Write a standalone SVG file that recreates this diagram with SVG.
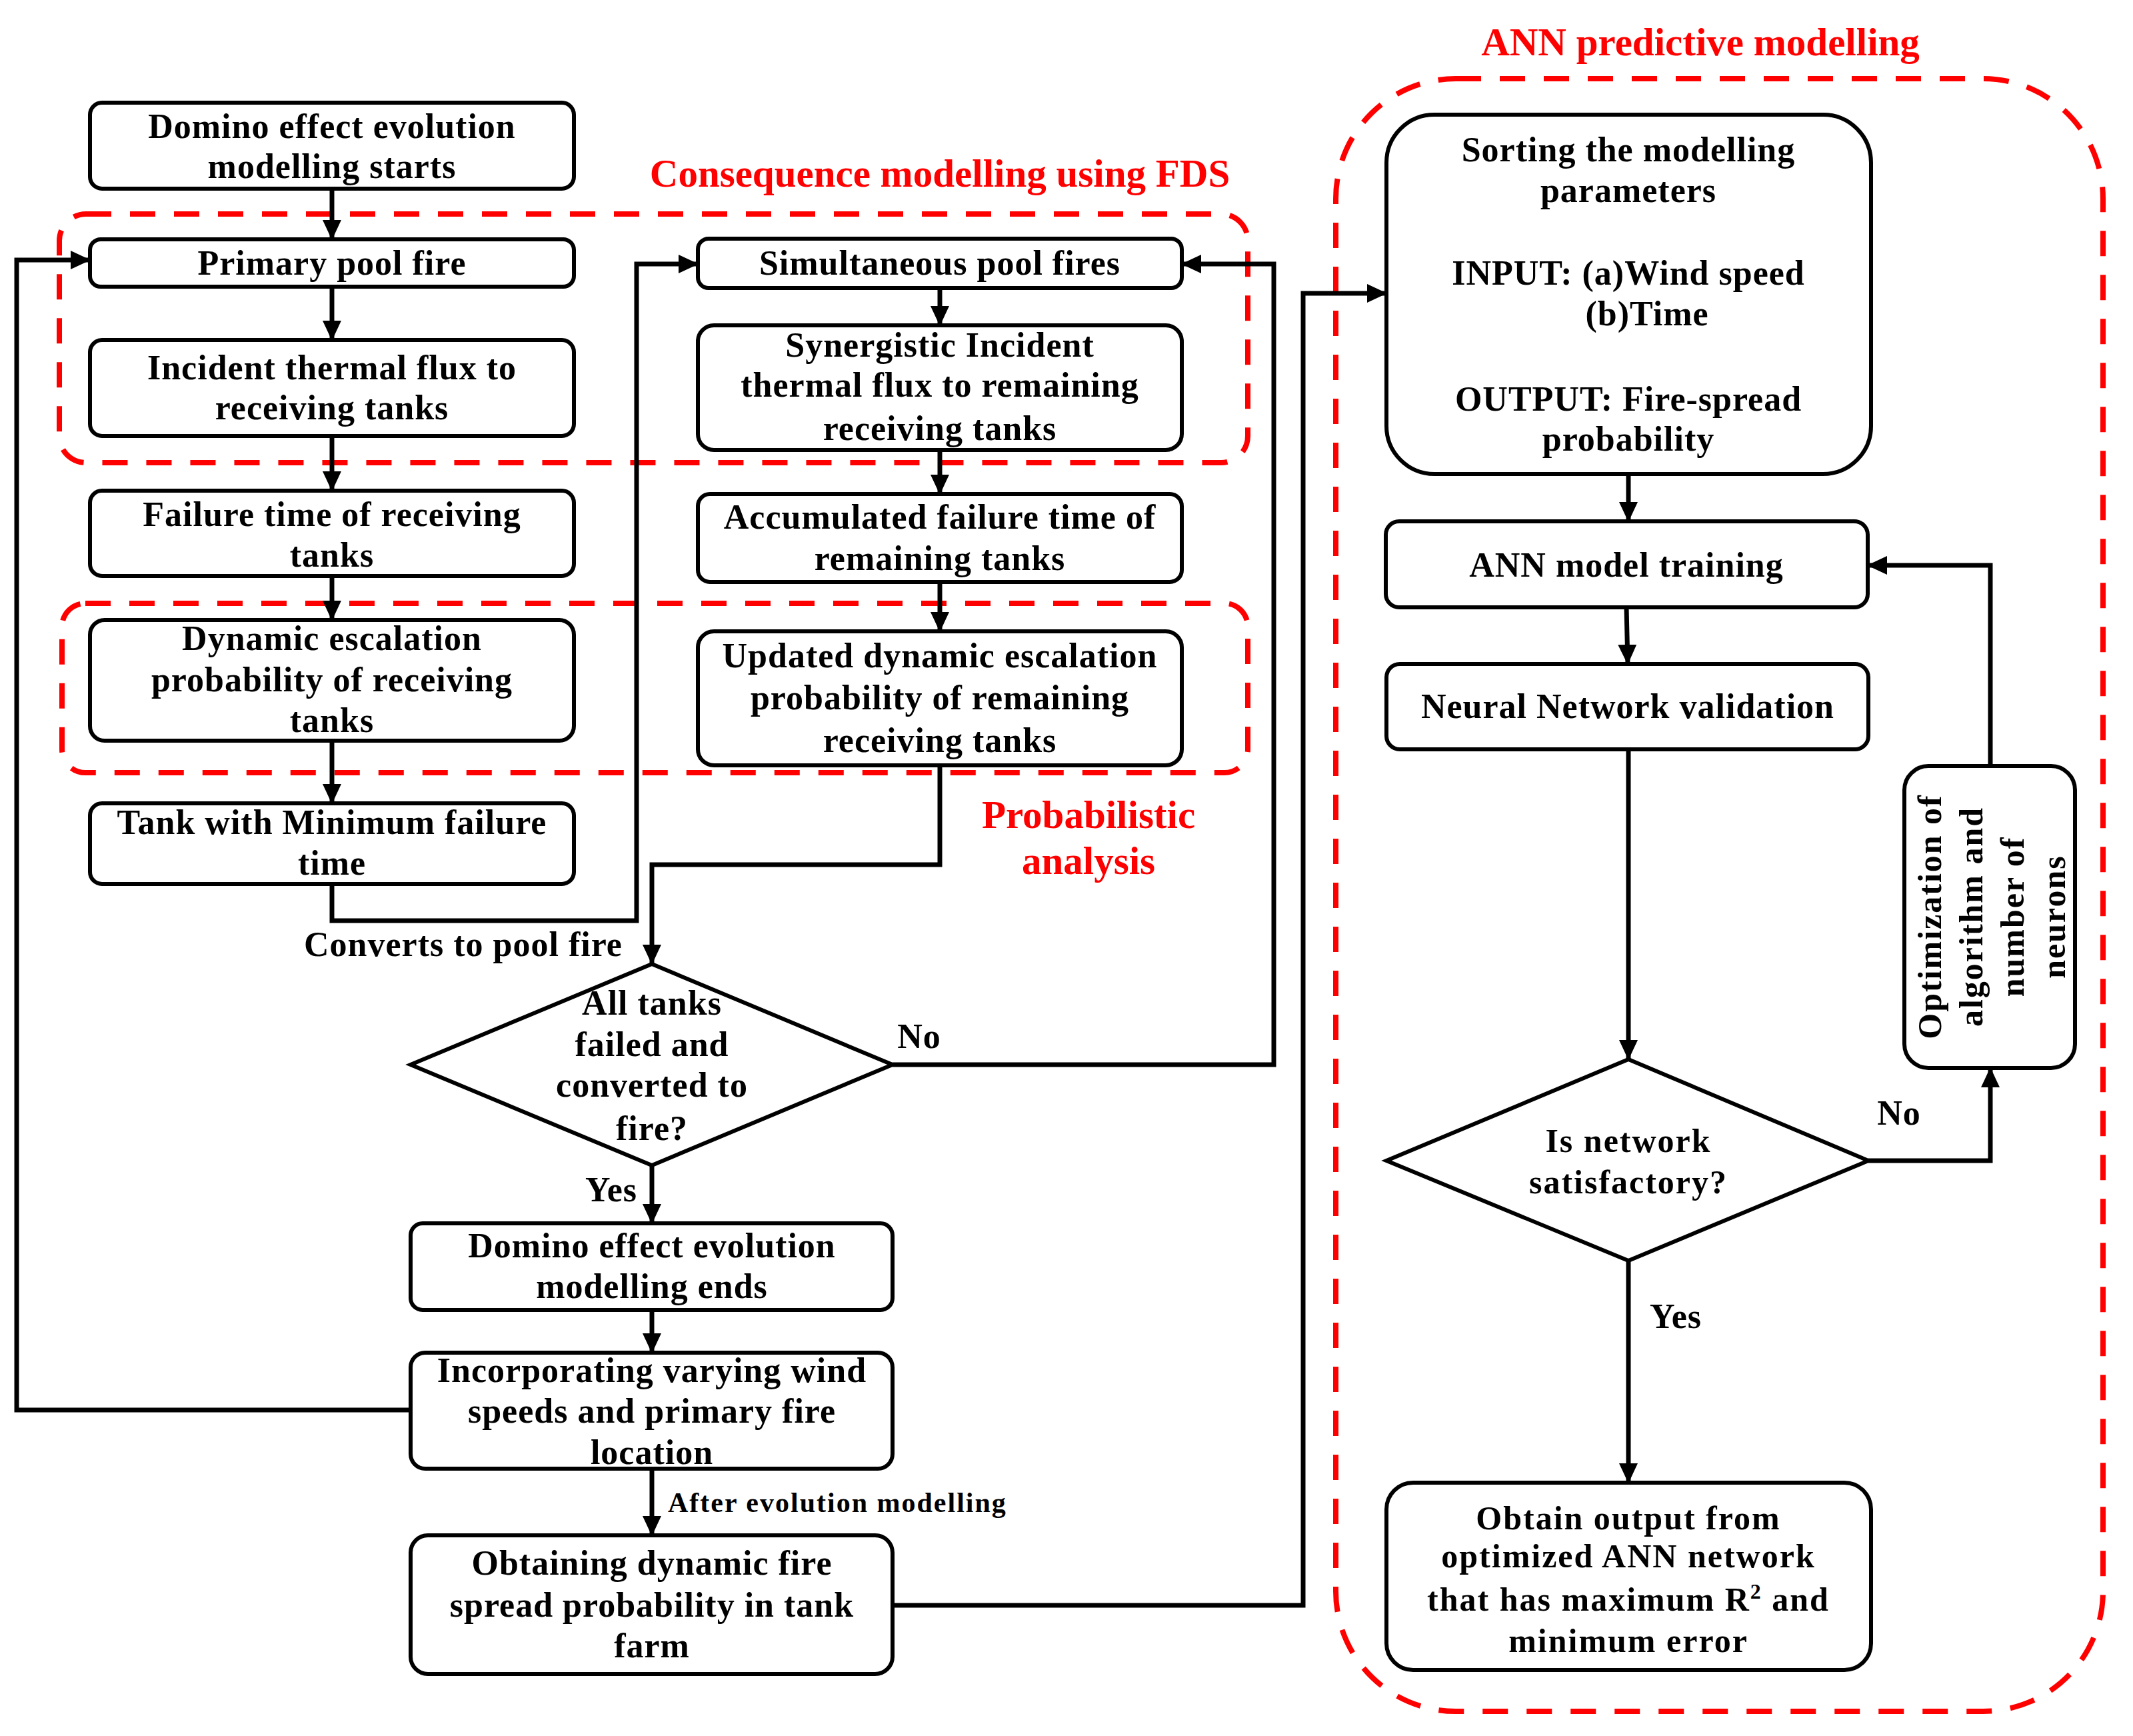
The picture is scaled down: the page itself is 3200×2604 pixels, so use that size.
<svg xmlns="http://www.w3.org/2000/svg" width="3200" height="2604" viewBox="0 0 3200 2604">
<style>
text{font-family:"Liberation Serif","Times New Roman",serif;font-weight:bold;fill:#000;}
.t{font-size:52px;text-anchor:middle;letter-spacing:1px;}
.ts{font-size:50px;text-anchor:middle;letter-spacing:2px;}
.lbl{font-size:52px;text-anchor:middle;letter-spacing:1px;}
.red{font-size:59px;text-anchor:middle;fill:#ff0000;}
.box{fill:#fff;stroke:#000;stroke-width:6;}
.dash{fill:none;stroke:#ff0000;stroke-width:8;stroke-dasharray:38 28;}
.c{fill:none;stroke:#000;stroke-width:7;}
</style>
<defs>
<marker id="ah" markerUnits="userSpaceOnUse" markerWidth="30" markerHeight="30" viewBox="0 0 30 30" refX="29" refY="15" orient="auto">
<path d="M0,1 L30,15 L0,29 Z" fill="#000"/>
</marker>
</defs>
<rect width="3200" height="2604" fill="#fff"/>

<g id="regions">
<rect class="dash" x="89" y="321" width="1783" height="373" rx="40"/>
<rect class="dash" x="93" y="905" width="1779" height="254" rx="35"/>
<rect class="dash" x="2004" y="118" width="1151" height="2449" rx="180"/>
<text class="red" x="1410" y="280">Consequence modelling using FDS</text>
<text class="red" x="1633" y="1242">Probabilistic</text>
<text class="red" x="1633" y="1311">analysis</text>
<text class="red" x="2551" y="83">ANN predictive modelling</text>
</g>

<g id="connectors">
<path class="c" d="M498,283 V359" marker-end="url(#ah)"/>
<path class="c" d="M498,430 V510" marker-end="url(#ah)"/>
<path class="c" d="M498,654 V736" marker-end="url(#ah)"/>
<path class="c" d="M498,864 V930" marker-end="url(#ah)"/>
<path class="c" d="M498,1111 V1205" marker-end="url(#ah)"/>
<path class="c" d="M498,1326 V1381 H955 V396 H1047" marker-end="url(#ah)"/>
<path class="c" d="M1410,432 V488" marker-end="url(#ah)"/>
<path class="c" d="M1410,675 V741" marker-end="url(#ah)"/>
<path class="c" d="M1410,873 V947" marker-end="url(#ah)"/>
<path class="c" d="M1410,1148 V1297 H978 V1446" marker-end="url(#ah)"/>
<path class="c" d="M1339,1597 H1911 V396 H1773" marker-end="url(#ah)"/>
<path class="c" d="M978,1748 V1835" marker-end="url(#ah)"/>
<path class="c" d="M978,1965 V2029" marker-end="url(#ah)"/>
<path class="c" d="M616,2115 H25 V390 H135" marker-end="url(#ah)"/>
<path class="c" d="M978,2203 V2303" marker-end="url(#ah)"/>
<path class="c" d="M1339,2408 H1955 V440 H2080" marker-end="url(#ah)"/>
<path class="c" d="M2443,711 V782" marker-end="url(#ah)"/>
<path class="c" d="M2440,911 L2442,996" marker-end="url(#ah)"/>
<path class="c" d="M2443,1124 V1589" marker-end="url(#ah)"/>
<path class="c" d="M2803,1741 H2986 V1602" marker-end="url(#ah)"/>
<path class="c" d="M2986,1149 V848 H2802" marker-end="url(#ah)"/>
<path class="c" d="M2443,1891 V2224" marker-end="url(#ah)"/>
<text class="lbl" x="695" y="1434">Converts to pool fire</text>
<text class="lbl" x="1379" y="1572">No</text>
<text class="lbl" x="917" y="1802">Yes</text>
<text x="1002" y="2268" style="font-size:42px;letter-spacing:2px;">After evolution modelling</text>
<text class="lbl" x="2849" y="1687">No</text>
<text class="lbl" x="2514" y="1992">Yes</text>
</g>

<g id="n-start">
<rect class="box" x="135" y="154" width="726" height="129" rx="18"/>
<text class="t" x="498" y="207">Domino effect evolution</text>
<text class="t" x="498" y="267">modelling starts</text>
</g>
<g id="n-primary">
<rect class="box" x="135" y="359" width="726" height="71" rx="16"/>
<text class="t" x="498" y="412">Primary pool fire</text>
</g>
<g id="n-incident">
<rect class="box" x="135" y="510" width="726" height="144" rx="18"/>
<text class="t" x="498" y="569">Incident thermal flux to</text>
<text class="t" x="498" y="629">receiving tanks</text>
</g>
<g id="n-failure">
<rect class="box" x="135" y="736" width="726" height="128" rx="18"/>
<text class="t" x="498" y="789">Failure time of receiving</text>
<text class="t" x="498" y="850">tanks</text>
</g>
<g id="n-dynamic">
<rect class="box" x="135" y="930" width="726" height="181" rx="22"/>
<text class="t" x="498" y="975">Dynamic escalation</text>
<text class="t" x="498" y="1037">probability of receiving</text>
<text class="t" x="498" y="1098">tanks</text>
</g>
<g id="n-tankmin">
<rect class="box" x="135" y="1205" width="726" height="121" rx="18"/>
<text class="t" x="498" y="1251">Tank with Minimum failure</text>
<text class="t" x="498" y="1312">time</text>
</g>

<g id="n-sim">
<rect class="box" x="1047" y="358" width="726" height="74" rx="16"/>
<text class="t" x="1410" y="412">Simultaneous pool fires</text>
</g>
<g id="n-syn">
<rect class="box" x="1047" y="488" width="726" height="187" rx="24"/>
<text class="t" x="1410" y="535">Synergistic Incident</text>
<text class="t" x="1410" y="595">thermal flux to remaining</text>
<text class="t" x="1410" y="660">receiving tanks</text>
</g>
<g id="n-acc">
<rect class="box" x="1047" y="741" width="726" height="132" rx="18"/>
<text class="t" x="1410" y="793">Accumulated failure time of</text>
<text class="t" x="1410" y="855">remaining tanks</text>
</g>
<g id="n-upd">
<rect class="box" x="1047" y="947" width="726" height="201" rx="24"/>
<text class="t" x="1410" y="1001">Updated dynamic escalation</text>
<text class="t" x="1410" y="1064">probability of remaining</text>
<text class="t" x="1410" y="1128">receiving tanks</text>
</g>

<g id="n-alltanks">
<polygon class="box" points="978,1446 1339,1597 978,1748 616,1597"/>
<text class="t" x="978" y="1522">All tanks</text>
<text class="t" x="978" y="1584">failed and</text>
<text class="t" x="978" y="1645">converted to</text>
<text class="t" x="978" y="1710">fire?</text>
</g>
<g id="n-ends">
<rect class="box" x="616" y="1835" width="723" height="130" rx="18"/>
<text class="t" x="978" y="1886">Domino effect evolution</text>
<text class="t" x="978" y="1947">modelling ends</text>
</g>
<g id="n-incorp">
<rect class="box" x="616" y="2029" width="723" height="174" rx="22"/>
<text class="t" x="978" y="2073">Incorporating varying wind</text>
<text class="t" x="978" y="2134">speeds and primary fire</text>
<text class="t" x="978" y="2196">location</text>
</g>
<g id="n-obtaining">
<rect class="box" x="616" y="2303" width="723" height="208" rx="26"/>
<text class="t" x="978" y="2362">Obtaining dynamic fire</text>
<text class="t" x="978" y="2425">spread probability in tank</text>
<text class="t" x="978" y="2486">farm</text>
</g>

<g id="n-sorting">
<rect class="box" x="2080" y="172" width="727" height="539" rx="72"/>
<text class="t" x="2443" y="242">Sorting the modelling</text>
<text class="t" x="2443" y="303">parameters</text>
<text class="t" x="2443" y="427">INPUT: (a)Wind speed</text>
<text class="t" x="2471" y="488">(b)Time</text>
<text class="t" x="2443" y="616">OUTPUT: Fire-spread</text>
<text class="t" x="2443" y="676">probability</text>
</g>
<g id="n-training">
<rect class="box" x="2079" y="782" width="723" height="129" rx="20"/>
<text class="t" x="2440" y="865">ANN model training</text>
</g>
<g id="n-validation">
<rect class="box" x="2080" y="996" width="723" height="128" rx="20"/>
<text class="t" x="2442" y="1077">Neural Network validation</text>
</g>
<g id="n-satisfactory">
<polygon class="box" points="2443,1589 2803,1741 2443,1891 2080,1741"/>
<text class="ts" x="2443" y="1728">Is network</text>
<text class="ts" x="2443" y="1790">satisfactory?</text>
</g>
<g id="n-optimization">
<rect class="box" x="2857" y="1149" width="256" height="453" rx="36"/>
<text class="ts" transform="translate(2912,1375) rotate(-90)">Optimization of</text>
<text class="ts" transform="translate(2974,1375) rotate(-90)">algorithm and</text>
<text class="ts" transform="translate(3036,1375) rotate(-90)">number of</text>
<text class="ts" transform="translate(3098,1375) rotate(-90)">neurons</text>
</g>
<g id="n-output">
<rect class="box" x="2080" y="2224" width="727" height="281" rx="40"/>
<text class="ts" x="2443" y="2294">Obtain output from</text>
<text class="ts" x="2443" y="2351">optimized ANN network</text>
<text class="ts" x="2443" y="2416">that has maximum R<tspan baseline-shift="super" font-size="32">2</tspan> and</text>
<text class="ts" x="2443" y="2478">minimum error</text>
</g>
</svg>
